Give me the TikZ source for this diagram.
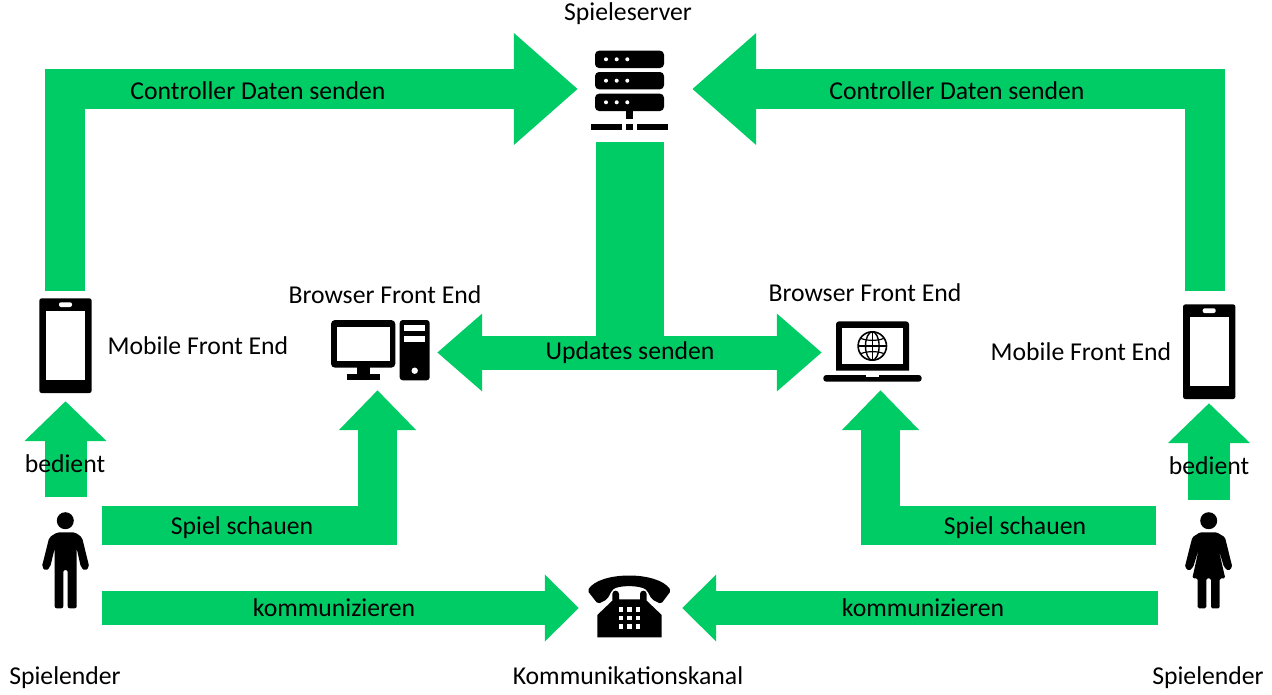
\documentclass[tikz,border=0pt]{standalone}
\usepackage{fontspec}
\setmainfont{Carlito}
\usetikzlibrary{arrows.meta,backgrounds}
\definecolor{flowgreen}{HTML}{00CC66}
\tikzset{
    lbl/.style={font=\fontsize{25.7}{30}\selectfont, inner sep=0pt, text depth=2.2pt, text height=19pt},
    slot/.style={inner sep=0pt, minimum width=#1},
    flow/.style={draw=flowgreen, line width=40pt},
    bigtip/.style={-{Triangle[length=64pt,width=108pt]}},
    midtip/.style={-{Triangle[length=40pt,width=75pt]}},
    usetip/.style={-{Triangle[length=40pt,width=80pt]}},
    smalltip/.style={-{Triangle[length=34pt,width=65pt]}},
    mobile/.pic={
        \fill[black, rounded corners=2.5pt] (-26.2,-47.4) rectangle (26.2,47.4);
        \fill[white] (-19.2,-34.7) rectangle (19.5,34);
        \fill[white, rounded corners=2pt] (-6.5,-43.4) rectangle (6.5,-38.7);
    }
}
\begin{document}
\begin{tikzpicture}[x=1pt, y=-1pt]
    \useasboundingbox (0,0) rectangle (1272,694);
    % slots for the icons
    \node[slot=114pt, minimum height=106pt] at (635, 89) (server) {};
    \node[slot=119pt, minimum height=75pt] at (377.5, 352.5) (desktop) {};
    \node[slot=117pt, minimum height=75pt] at (880.5, 352.5) (laptop) {};
    \node[slot=103pt, minimum height=70pt] at (630.5, 608) (telephone) {};
    \node[slot=52pt, minimum height=110pt] at (65.5, 346) (mobile_l) {};
    \node[slot=52pt, minimum height=112pt] at (1209, 347) (mobile_r) {};
    \node[slot=46pt, minimum height=111pt] at (65.5, 552.5) (man) {};
    \node[slot=46pt, minimum height=108pt] at (1209, 554) (woman) {};

    \coordinate (ctrl_l) at (65, 291);
    \coordinate (ctrl_r) at (1205, 291);
    \coordinate (watch_l) at (102, 525.5);
    \coordinate (watch_r) at (1156, 525.5);
    \coordinate (talk_l) at (102, 608);
    \coordinate (talk_r) at (1158, 608);

    % labels
    \node[lbl] at (628, 12) (t_server) {Spieleserver};
    \node[lbl] at (258, 91) (t_ctrl_l) {Controller Daten senden};
    \node[lbl] at (957, 91) (t_ctrl_r) {Controller Daten senden};
    \node[lbl] at (385, 295) (t_browser_l) {Browser Front End};
    \node[lbl] at (865, 293) (t_browser_r) {Browser Front End};
    \node[lbl] at (198, 346) (t_mobile_l) {Mobile Front End};
    \node[lbl] at (1081, 352) (t_mobile_r) {Mobile Front End};
    \node[lbl] at (630, 351) (updates) {Updates senden};
    \node[lbl] at (65, 464) (t_use_l) {bedient};
    \node[lbl] at (1209, 466) (t_use_r) {bedient};
    \node[lbl] at (242, 526) (t_watch_l) {Spiel schauen};
    \node[lbl] at (1015, 526) (t_watch_r) {Spiel schauen};
    \node[lbl] at (334, 608) (t_talk_l) {kommunizieren};
    \node[lbl] at (923, 608) (t_talk_r) {kommunizieren};
    \node[lbl] at (65, 676) (t_player_l) {Spielender};
    \node[lbl] at (1208, 676) (t_player_r) {Spielender};
    \node[lbl] at (628, 676) (t_channel) {Kommunikationskanal};

    \begin{pgfonlayer}{background}
        \draw[flow, bigtip] (ctrl_l) |- (server.west);
        \draw[flow, bigtip] (ctrl_r) |- (server.east);
        \draw[flow, line width=68pt] (updates |- server.south) -- (updates);
        \draw[flow, line width=34pt, {Triangle[length=45pt,width=75pt]}-{Triangle[length=45pt,width=75pt]}] (desktop.east) -- (laptop.west);
        \draw[flow, line width=42pt, usetip] (man.north) -- (mobile_l.south);
        \draw[flow, line width=42pt, usetip] (woman.north) -- (mobile_r.south);
        \draw[flow, line width=39pt, midtip] (watch_l) -| (desktop.south);
        \draw[flow, line width=39pt, midtip] (watch_r) -| (laptop.south);
        \draw[flow, line width=34pt, smalltip] (talk_l) -- (telephone.west);
        \draw[flow, line width=34pt, smalltip] (talk_r) -- (telephone.east);
    \end{pgfonlayer}

    % server
    \fill[rounded corners=4pt] (595, 50.7) rectangle (664, 68);
    \fill[rounded corners=4pt] (595, 72) rectangle (664, 89.3);
    \fill[rounded corners=4pt] (595, 93.7) rectangle (664, 111);
    \foreach \y in {59.3, 80.7, 102.3}
        \foreach \x in {606, 616.7, 627.3}
            \fill[white] (\x, \y) circle (2pt);
    \fill (626, 111) rectangle (632.7, 119.3);
    \fill (590.7, 123.7) rectangle (622.3, 130.3);
    \fill (626, 123.7) rectangle (632.7, 130.3);
    \fill (637, 123.7) rectangle (668.3, 130.3);

    % desktop
    \fill[rounded corners=4pt] (331, 320) rectangle (395.3, 367.7);
    \fill[white] (337.3, 326.7) rectangle (389.7, 361.3);
    \fill (356.7, 367) rectangle (370, 374.5);
    \fill (347.3, 374) rectangle (379.7, 380.3);
    \fill[rounded corners=3pt] (399.7, 320) rectangle (429.7, 380.3);
    \fill[white] (404.3, 324.7) rectangle (425.3, 331);
    \fill[white] (404.3, 335.7) rectangle (425.3, 342);
    \fill[white] (414.7, 370.7) circle (3.2pt);

    % laptop
    \fill[rounded corners=3pt] (836, 370.7) -- (836, 321.3) -- (909, 321.3) [sharp corners] -- (909, 370.7) -- cycle;
    \fill[white] (842.3, 327.7) rectangle (902.7, 364.3);
    \draw[line width=1.6pt] (872.3, 346) circle (14.2pt);
    \draw[line width=1.4pt] (872.3, 346) ellipse (6.8pt and 14.2pt);
    \draw[line width=1.4pt] (858.1, 346) -- (886.5, 346);
    \draw[line width=1.4pt] (872.3, 331.8) -- (872.3, 360.2);
    \draw[line width=1.2pt] (861, 338.5) .. controls (868, 341) and (877, 341) .. (883.6, 338.5);
    \draw[line width=1.2pt] (861, 353.5) .. controls (868, 351) and (877, 351) .. (883.6, 353.5);
    \fill[rounded corners=3pt] (823.3, 375) -- (921.7, 375) -- (921.7, 381.7) -- (823.3, 381.7) -- cycle;
    \fill[white] (866, 375) rectangle (879, 377.3);

    % telephone
    \fill[rounded corners=2pt] (587.5, 590.7) .. controls (600, 571) and (658, 571) .. (671, 590.7)
        -- (661, 604) -- (651.7, 599.3) -- (647.3, 590.7)
        .. controls (640, 585) and (618, 585) .. (611.7, 590.7)
        -- (607.3, 599.3) -- (598, 604) -- cycle;
    \fill (597.3, 637.3) -- (597.3, 615) -- (612.3, 600.7) -- (612.3, 594)
        arc[start angle=180, end angle=0, radius=3.35pt] -- (619, 599.3) -- (640, 599.3) -- (640, 594)
        arc[start angle=180, end angle=0, radius=3.35pt] -- (646.7, 600.7) -- (661.7, 615) -- (661.7, 637.3) -- cycle;
    \foreach \y in {607.3, 615.7, 624.3}
        \foreach \x in {619, 627.3, 636}
            \fill[white] (\x, \y) rectangle +(4.3, 4.3);

    % mobiles
    \pic at (65.5, 345.7) {mobile};
    \pic at (1209.2, 351.7) {mobile};

    % man
    \fill (65.3, 520.7) circle (8.5pt);
    \fill[rounded corners=2pt] (57.3, 532.3) -- (75, 532.3) -- (82, 537.3) -- (89.3, 567) -- (85, 570.9) -- (80.8, 567)
        -- (76.7, 548.3) -- (76.7, 608.3) -- (67.7, 608.3) -- (67.7, 570) -- (63.3, 570) -- (63.3, 608.3) -- (54.7, 608.3)
        -- (54.7, 548.3) -- (50.2, 567) -- (46, 570.9) -- (41.8, 567) -- (49.3, 537.3) -- cycle;

    % woman
    \fill (1208.7, 520.7) circle (8.5pt);
    \fill[rounded corners=1.5pt] (1200, 532.3) -- (1216.7, 532.3) -- (1225, 537.3) -- (1232.3, 567) -- (1228.3, 570.9) -- (1224, 567)
        -- (1218.3, 548.3) -- (1225.3, 578.3) -- (1219.7, 578.3) -- (1219.7, 608.3) -- (1211, 608.3) -- (1211, 578.3)
        -- (1206.3, 578.3) -- (1206.3, 608.3) -- (1197.7, 608.3) -- (1197.7, 578.3) -- (1192.3, 578.3) -- (1199, 548.3)
        -- (1193.2, 567) -- (1189, 570.9) -- (1184.8, 567) -- (1192.3, 537.3) -- cycle;
\end{tikzpicture}
\end{document}
